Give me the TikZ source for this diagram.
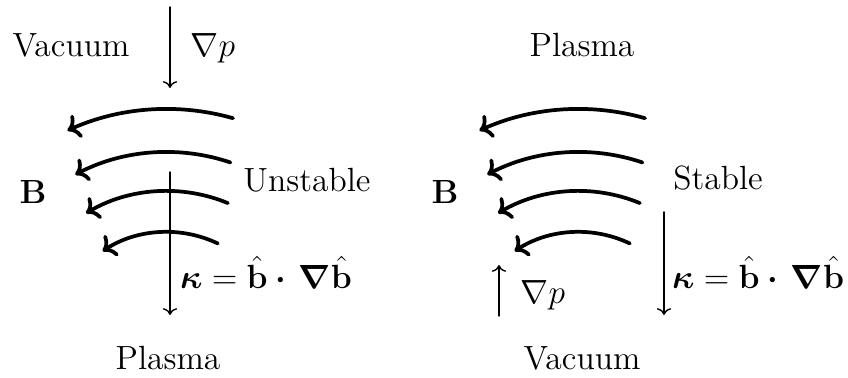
\documentclass[tikz,border=0pt]{standalone}
\usepackage{amsmath,amssymb,bm}
\usepackage{tikz}
\usetikzlibrary{arrows.meta}

\newcommand{\curvkappa}{$\bm{\kappa}=\hat{\mathbf{b}}\bm{\cdot}\,\bm{\nabla}\hat{\mathbf{b}}$}

\begin{document}
\begin{tikzpicture}[>={To},font=\Large,line cap=round,
  fieldline/.style={->,line width=1.6pt},
  gradline/.style={->,semithick}]
\useasboundingbox (0,0) rectangle (12.790,5.701);
% field lines, concentric arcs
\coordinate (cl) at (2.519,0.422);
\coordinate (cr) at (8.733,0.422);
\foreach \c in {cl,cr}{
  \foreach \r/\a/\b in {3.635/74.1/114.4,2.986/71.3/117.6,2.398/67.5/120.6,1.780/64.5/123.1}
    \draw[fieldline] (\c) ++(\a:\r) arc (\a:\b:\r);
}
% left panel: unstable
\coordinate (gl0) at (2.564,5.596);
\coordinate (gl1) at (2.564,4.374);
\coordinate (kl0) at (2.564,3.107);
\coordinate (kl1) at (2.564,0.950);
\draw[gradline] (gl0) -- (gl1);
\draw[gradline] (kl0) -- (kl1);
\node (vacl) at (1.071,5.023) {Vacuum};
\node[anchor=west] (gradl) at (2.750,4.977) {$\nabla p$};
\node (bl) at (0.498,2.805) {$\mathbf{B}$};
\node (unst) at (4.630,2.986) {Unstable};
\node (kapl) at (4.012,1.599) {\curvkappa};
\node (plal) at (2.534,0.302) {Plasma};
% right panel: stable
\coordinate (gr0) at (7.526,0.935);
\coordinate (gr1) at (7.526,1.704);
\coordinate (kr0) at (10.015,2.504);
\coordinate (kr1) at (10.015,0.950);
\draw[gradline] (gr0) -- (gr1);
\draw[gradline] (kr0) -- (kr1);
\node (plar) at (8.778,5.023) {Plasma};
\node (br) at (6.712,2.805) {$\mathbf{B}$};
\node (stab) at (10.830,3.017) {Stable};
\node (kapr) at (11.433,1.599) {\curvkappa};
\node[anchor=west] (gradr) at (7.730,1.252) {$\nabla p$};
\node (vacr) at (8.778,0.302) {Vacuum};
\end{tikzpicture}
\end{document}
